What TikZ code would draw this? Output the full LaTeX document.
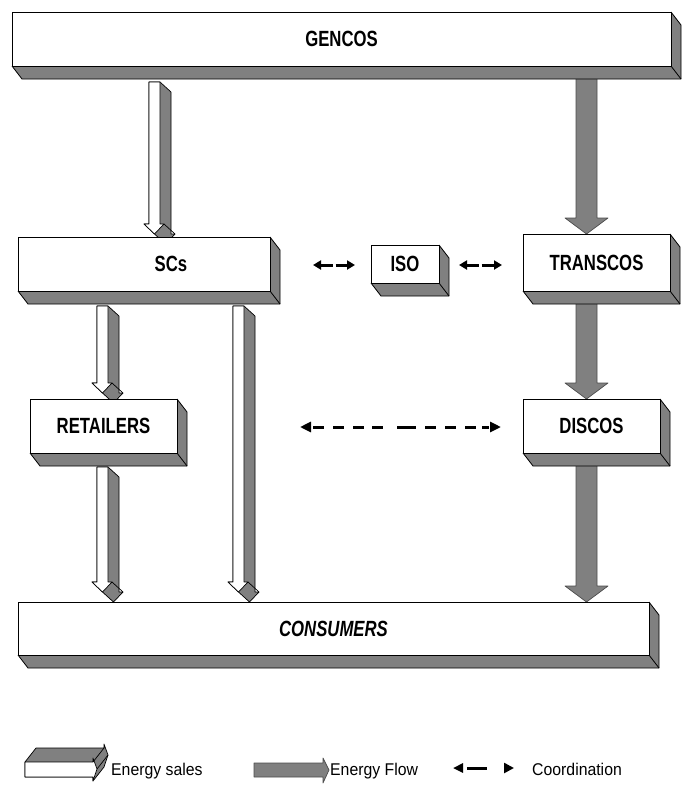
\documentclass[tikz,border=0pt]{standalone}
\usepackage{fontspec}
\newfontfamily\lblfont[FakeStretch=0.76]{Liberation Sans}
\newfontfamily\legfont[FakeStretch=0.93]{Liberation Sans}
\usetikzlibrary{arrows.meta,calc}
\definecolor{boxgray}{HTML}{808080}
\tikzset{
  edge/.style={draw=black, line width=0.8pt, line join=round},
  boxfront/.style={draw=black, line width=0.8pt, fill=white, inner sep=0pt,
    font=\lblfont\bfseries\fontsize{22}{25}\selectfont},
  sales3d/.style={fill=boxgray, draw=black, line width=0.7pt, line join=round},
  salesfront/.style={fill=white, draw=black, line width=0.7pt, line join=round},
  flow/.style={fill=boxgray, draw=black!70, line width=0.7pt, line join=round},
  coordarrow/.style={line width=3pt},
  legtext/.style={anchor=base west, inner sep=0pt, font=\legfont\fontsize{17}{20}\selectfont},
}
% 3D box: style, name, x1, y1, x2, y2, text
\newcommand\tdbox[7]{%
  \fill[boxgray] (#5,#4) -- ++(10,13) -- ++(0,{#6-#4}) -- ++({#3-#5},0) -- ++(-10,-13) -- cycle;
  \draw[edge] (#5,#4) -- ++(10,13) -- ++(0,{#6-#4}) -- ++({#3-#5},0) -- ++(-10,-13);
  \draw[edge] (#5,#6) -- ++(10,13);
  \node[boxfront,#1,minimum width={(#5-#3)*1pt},minimum height={(#6-#4)*1pt}] (#2) at ({(#3+#5)/2},{(#4+#6)/2}) {#7};
}
% white 3D arrow (energy sales): shaft left x, top y, head base y
\newcommand\salesarrow[3]{%
  \draw[sales3d] (#1,#2) -- ({#1+11},#2) -- ({#1+22},{#2+10}) -- ({#1+22},{#3+10}) -- ({#1+26},{#3+10}) -- ({#1+16.5},{#3+20}) -- ({#1+5.5},{#3+10}) -- ({#1-5},#3) -- (#1,#3) -- cycle;
  \draw[salesfront] (#1,#2) -- ({#1+11},#2) -- ({#1+11},#3) -- ({#1+15},#3) -- ({#1+5.5},{#3+10}) -- ({#1-5},#3) -- (#1,#3) -- cycle;
  \draw[sales3d] ({#1+15},#3) -- ++(11,10);
}
% grey flat arrow (energy flow): top y, head base y, tip y
\newcommand\flowarrow[3]{%
  \draw[flow] (576,#1) -- (597,#1) -- (597,#2) -- (608,#2) -- (586.5,#3) -- (565,#2) -- (576,#2) -- cycle;
}
\begin{document}
\begin{tikzpicture}[x=1pt,y=-1pt]
\useasboundingbox (0,0) rectangle (689,785);

% energy flow arrows (grey)
\flowarrow{70}{218}{234}
\flowarrow{300}{383}{399}
\flowarrow{460}{586}{602}

% energy sales arrows (white 3D)
\salesarrow{149}{82}{224}
\salesarrow{97}{306}{383}
\salesarrow{233}{306}{582}
\salesarrow{97}{467}{582}

% boxes
\tdbox{}{gencos}{12}{12}{671}{66}{GENCOS}
\tdbox{}{scs}{18}{237}{270}{291}{\hspace*{54pt}SCs}
\tdbox{}{iso}{371}{245}{439}{283}{ISO}
\tdbox{}{transcos}{523}{234}{670}{291}{TRANSCOS}
\tdbox{}{retailers}{30}{399}{177}{453}{RETAILERS}
\tdbox{}{discos}{523}{399}{660}{453}{DISCOS}
\tdbox{font=\lblfont\bfseries\itshape\fontsize{22}{25}\selectfont}{consumers}{18}{602}{649}{655}{CONSUMERS}

% coordination arrows
\coordinate (c1a) at (313,265);
\coordinate (c1b) at (355,265);
\coordinate (c2a) at (459,265);
\coordinate (c2b) at (502,265);
\coordinate (c3a) at (300,427);
\coordinate (c3b) at (501,427);
\draw[coordarrow, dash pattern=on 12pt off 3pt,
  arrows={Triangle[length=8pt,width=9pt]-Triangle[length=8pt,width=9pt]}] (c1a) -- (c1b);
\draw[coordarrow, dash pattern=on 12pt off 3pt,
  arrows={Triangle[length=8pt,width=9pt]-Triangle[length=8pt,width=9pt]}] (c2a) -- (c2b);
\draw[coordarrow,
  dash pattern=on 11pt off 9pt on 11pt off 9pt on 11pt off 8pt on 11pt off 14pt on 19pt off 9pt on 11pt off 9pt on 11pt off 9pt on 11pt off 6pt on 7pt off 3pt,
  dash phase=176pt,
  arrows={Triangle[length=11pt,width=10pt]-Triangle[length=11pt,width=10pt]}] (c3a) -- (c3b);

% legend: energy sales
\draw[sales3d] (25,762) -- (36,748) -- (104,748) -- (104,744) -- (108,755) -- (104,767) -- (93,781) -- (93,777) -- (25,777) -- cycle;
\draw[salesfront] (25,762) -- (93,762) -- (93,758) -- (97,769) -- (93,781) -- (93,777) -- (25,777) -- cycle;
\draw[sales3d] (93,762) -- (104,748);
\draw[sales3d] (97,769) -- (108,755);
\node[legtext] (lsales) at (111,775) {Energy sales};

% legend: energy flow
\draw[flow] (254,763) -- (323,763) -- (323,758) -- (329,770) -- (323,783) -- (323,777) -- (254,777) -- cycle;
\node[legtext] (lflow) at (330,775) {Energy Flow};

% legend: coordination
\coordinate (l3a) at (453,768);
\coordinate (l3b) at (514,768);
\draw[coordarrow, dash pattern=on 20pt off 21pt, dash phase=36pt,
  arrows={Triangle[length=10pt,width=9pt]-Triangle[length=10pt,width=10pt]}] (l3a) -- (l3b);
\node[legtext] (lcoord) at (532,775) {Coordination};
\end{tikzpicture}
\end{document}
